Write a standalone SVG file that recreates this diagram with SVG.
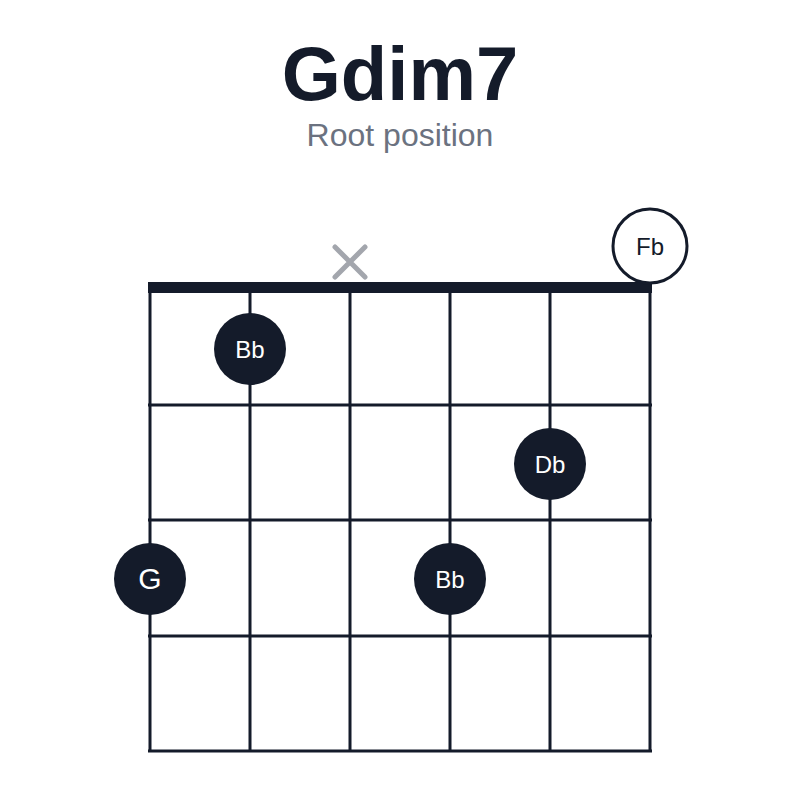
<svg xmlns="http://www.w3.org/2000/svg" width="800" height="800" viewBox="0 0 800 800">
<style>
.s{stroke:#141b2a;stroke-width:3;fill:none}
.d{fill:#141b2a}
.t{font-family:"Liberation Sans",Arial,sans-serif;text-anchor:middle}
.w{fill:#fff;font-size:24px}
</style>
<rect width="800" height="800" fill="#fff"/>
<text class="t" x="400" y="100" font-size="76" font-weight="bold" fill="#141b2a">Gdim7</text>
<text class="t" x="400" y="146" font-size="32" fill="#6b7280">Root position</text>
<g id="grid">
<rect x="148" y="282" width="504" height="11" class="d"/>
<path class="s" d="M150 290V751M250 290V751M350 290V751M450 290V751M550 290V751M650 290V751M148 405H652M148 520H652M148 636H652M148 751H652"/>
</g>
<g id="mute"><path d="M335 247L365 277M365 247L335 277" stroke="#a3a6ad" stroke-width="5" stroke-linecap="round"/></g>
<g id="open-Fb"><circle cx="650" cy="246" r="37" fill="#fff" stroke="#141b2a" stroke-width="3"/><text class="t" x="650" y="255" font-size="24" fill="#141b2a">Fb</text></g>
<g id="Bb1"><circle cx="250" cy="349" r="36" class="d"/><text class="t w" x="250" y="358">Bb</text></g>
<g id="Db"><circle cx="550" cy="464" r="36" class="d"/><text class="t w" x="550" y="473">Db</text></g>
<g id="G"><circle cx="150" cy="579" r="36" class="d"/><text class="t" x="150" y="589" font-size="30" fill="#fff">G</text></g>
<g id="Bb2"><circle cx="450" cy="579" r="36" class="d"/><text class="t w" x="450" y="588">Bb</text></g>
</svg>
